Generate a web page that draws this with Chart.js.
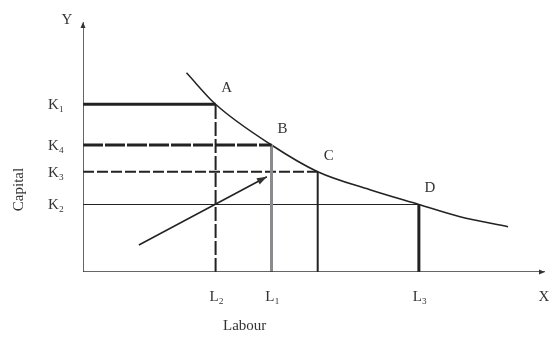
<!DOCTYPE html>
<html>
<head>
<meta charset="utf-8">
<script src="https://cdn.jsdelivr.net/npm/chart.js@4.4.1/dist/chart.umd.min.js"></script>
<style>
  html, body { margin: 0; padding: 0; background: #fff; }
  #wrap { width: 553px; height: 341px; }
</style>
</head>
<body>
<div id="wrap"><canvas id="chart-isoquant"></canvas></div>
<script>
// isoquant curve (labour, capital)
var curveLabour  = [2.24, 2.87, 4.08, 5.08, 6.21, 7.27, 8.16, 9.20];
var curveCapital = [7.97, 6.71, 5.08, 4.01, 3.29, 2.70, 2.21, 1.81];

// marked combinations on the curve
var pointNames    = ['A', 'B', 'C', 'D'];
var pointLabour   = [2.87, 4.08, 5.08, 7.27];
var pointCapital  = [6.71, 5.08, 4.01, 2.70];

// axis tick labels
var capitalTicks  = ['K\u2081', 'K\u2084', 'K\u2083', 'K\u2082'];
var labourTicks   = ['L\u2082', 'L\u2081', '', 'L\u2083'];

// arrow pointing at B-C segment
var arrowFrom = [1.21, 1.08];
var arrowTo   = [3.98, 3.81];

var axisMax = 10;

(function () {
  'use strict';
  var ink = '#222';
  var serif = "'Liberation Serif', 'DejaVu Serif', serif";

  var hStyles = [
    { width: 3, dash: [] },
    { width: 3, dash: [20, 2] },
    { width: 2.2, dash: [11, 3] },
    { width: 1, dash: [] }
  ];
  var vStyles = [
    { width: 2, dash: [14, 3], color: ink },
    { width: 3, dash: [], color: '#8a8a8f' },
    { width: 2, dash: [], color: ink },
    { width: 3, dash: [], color: ink }
  ];

  function seg(data, color, width, dash) {
    return {
      type: 'line', data: data, borderColor: color, borderWidth: width,
      borderDash: dash || [], pointRadius: 0, fill: false, tension: 0
    };
  }

  var datasets = [];
  // axes
  datasets.push(seg([{ x: 0, y: 0 }, { x: 0, y: axisMax }], '#333', 1.5));
  datasets.push(seg([{ x: 0, y: 0 }, { x: axisMax, y: 0 }], '#333', 1.5));

  // guide lines to each point
  pointNames.forEach(function (n, i) {
    datasets.push(seg([{ x: 0, y: pointCapital[i] }, { x: pointLabour[i], y: pointCapital[i] }],
      ink, hStyles[i].width, hStyles[i].dash));
    datasets.push(seg([{ x: pointLabour[i], y: 0 }, { x: pointLabour[i], y: pointCapital[i] }],
      vStyles[i].color, vStyles[i].width, vStyles[i].dash));
  });

  // arrow shaft
  datasets.push(seg([{ x: arrowFrom[0], y: arrowFrom[1] }, { x: arrowTo[0], y: arrowTo[1] }], ink, 1.5));

  // isoquant
  var curve = seg(curveLabour.map(function (x, i) { return { x: x, y: curveCapital[i] }; }), ink, 1.5);
  curve.cubicInterpolationMode = 'monotone';
  datasets.push(curve);

  function head(ctx, x, y, ang, len, wid) {
    ctx.save();
    ctx.translate(x, y);
    ctx.rotate(ang);
    ctx.beginPath();
    ctx.moveTo(0, 0);
    ctx.lineTo(-len, -wid);
    ctx.lineTo(-len, wid);
    ctx.closePath();
    ctx.fill();
    ctx.restore();
  }

  var labels = {
    id: 'labels',
    afterDatasetsDraw: function (chart) {
      var ctx = chart.ctx;
      var xs = chart.scales.x, ys = chart.scales.y;
      var x0 = xs.getPixelForValue(0), y0 = ys.getPixelForValue(0);
      ctx.save();
      ctx.fillStyle = '#333';

      // axis arrowheads
      head(ctx, x0, ys.getPixelForValue(axisMax), -Math.PI / 2, 6, 2.5);
      head(ctx, xs.getPixelForValue(axisMax), y0, 0, 6, 2.5);
      // arrow head
      var ax = xs.getPixelForValue(arrowTo[0]), ay = ys.getPixelForValue(arrowTo[1]);
      var bx = xs.getPixelForValue(arrowFrom[0]), by = ys.getPixelForValue(arrowFrom[1]);
      head(ctx, ax, ay, Math.atan2(ay - by, ax - bx), 10, 3.5);

      ctx.font = '15px ' + serif;
      ctx.textBaseline = 'middle';
      ctx.textAlign = 'center';
      ctx.fillText('Y', x0 - 16, ys.getPixelForValue(axisMax) - 2);
      ctx.fillText('X', xs.getPixelForValue(axisMax) - 1, y0 + 25);

      // capital ticks
      capitalTicks.forEach(function (t, i) {
        ctx.fillText(t, x0 - 27, ys.getPixelForValue(pointCapital[i]) + 1);
      });
      // labour ticks
      labourTicks.forEach(function (t, i) {
        if (t) ctx.fillText(t, xs.getPixelForValue(pointLabour[i]) + 1, y0 + 25);
      });
      // point names
      pointNames.forEach(function (n, i) {
        ctx.fillText(n, xs.getPixelForValue(pointLabour[i]) + 11, ys.getPixelForValue(pointCapital[i]) - 16);
      });

      ctx.fillText('Labour', xs.getPixelForValue(3.5), y0 + 54);
      ctx.save();
      ctx.translate(x0 - 64, ys.getPixelForValue(3.3));
      ctx.rotate(-Math.PI / 2);
      ctx.fillText('Capital', 0, 0);
      ctx.restore();
      ctx.restore();
    }
  };

  new Chart(document.getElementById('chart-isoquant'), {
    type: 'scatter',
    data: { datasets: datasets },
    options: {
      responsive: true,
      maintainAspectRatio: false,
      animation: false,
      layout: { padding: { left: 83, right: 8, top: 22, bottom: 69 } },
      plugins: { legend: { display: false }, tooltip: { enabled: false } },
      scales: {
        x: { type: 'linear', min: 0, max: axisMax, display: false },
        y: { type: 'linear', min: 0, max: axisMax, display: false }
      }
    },
    plugins: [labels]
  });
})();
</script>
</body>
</html>
